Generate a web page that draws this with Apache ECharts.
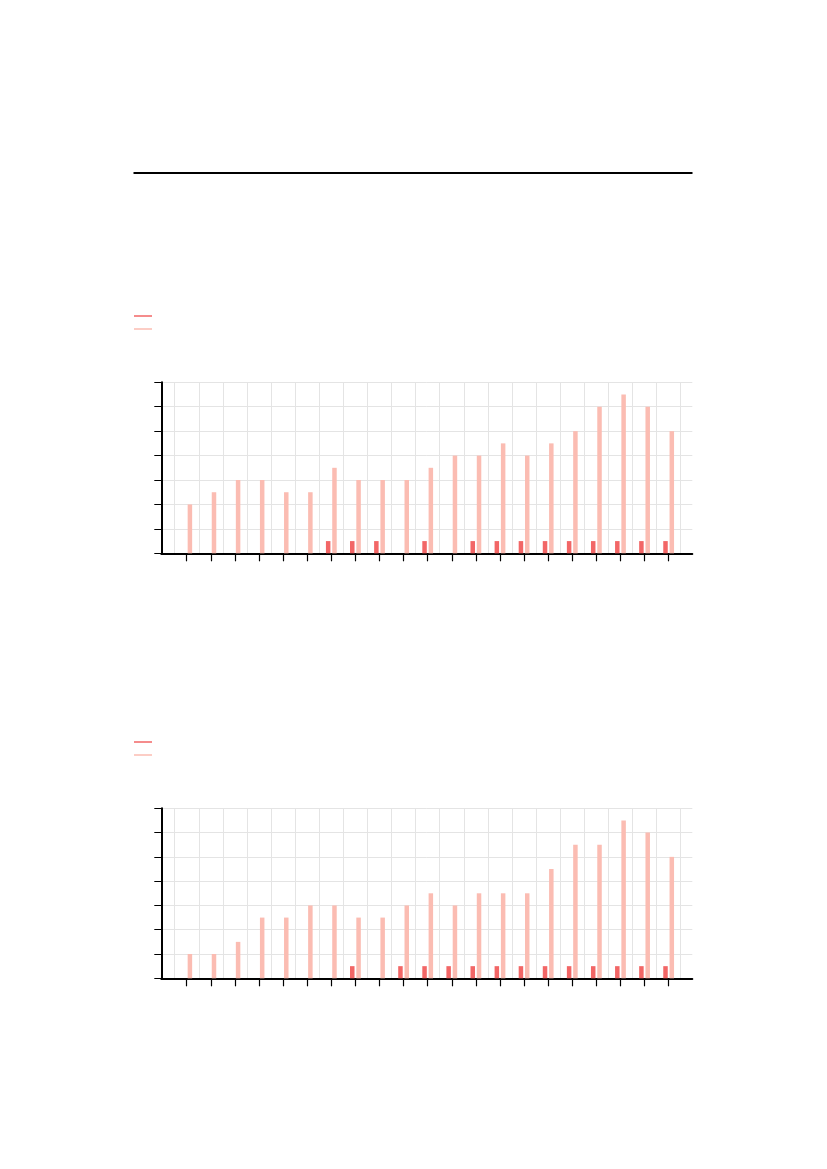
<!DOCTYPE html>
<html lang="en">
    <head>
        <meta charset="UTF-8">
        <title>bars</title>
        <style>
            html, body { margin: 0; padding: 0; background: #fff; }
            #Main { width: 827px; height: 1169px; }
        </style>
    </head>
    <script src="https://cdn.jsdelivr.net/npm/echarts@6.0.0/dist/echarts.min.js"></script>
    <body>

        <div id="Main"></div>

        <script type="text/javascript">
            // 21 categories, values (half-unit steps)
            var categories = ['1', '2', '3', '4', '5', '6', '7', '8', '9', '10', '11',
                              '12', '13', '14', '15', '16', '17', '18', '19', '20', '21'];

            var topDark   = [0, 0, 0, 0, 0, 0, 0.5, 0.5, 0.5, 0, 0.5, 0, 0.5, 0.5, 0.5, 0.5, 0.5, 0.5, 0.5, 0.5, 0.5];
            var topLight  = [2, 2.5, 3, 3, 2.5, 2.5, 3.5, 3, 3, 3, 3.5, 4, 4, 4.5, 4, 4.5, 5, 6, 6.5, 6, 5];

            var bottomDark  = [0, 0, 0, 0, 0, 0, 0, 0.5, 0, 0.5, 0.5, 0.5, 0.5, 0.5, 0.5, 0.5, 0.5, 0.5, 0.5, 0.5, 0.5];
            var bottomLight = [1, 1, 1.5, 2.5, 2.5, 3, 3, 2.5, 2.5, 3, 3.5, 3, 3.5, 3.5, 3.5, 4.5, 5.5, 5.5, 6.5, 6, 5];

            var yMax = 7;
            var darkColor = '#f26666';
            var lightColor = '#fbbcb2';
            var gridColor = '#e4e4e4';

            var myChart = echarts.init(document.getElementById('Main'));

            // each panel = outer grid (axes + horizontal lines) + inner grid (bars + vertical lines)
            var panelTops = [382.3, 808.3];
            var panelHeights = [171, 170];
            var panelData = [[topDark, topLight], [bottomDark, bottomLight]];

            var grids = [], xAxes = [], yAxes = [], series = [], graphics = [];

            graphics.push({
                type: 'line', silent: true,
                shape: { x1: 133.5, y1: 173, x2: 692.5, y2: 173 },
                style: { stroke: '#000', lineWidth: 2 }
            });

            for (var p = 0; p < 2; p++) {
                var pTop = panelTops[p], pH = panelHeights[p];
                var a = p * 2, b = p * 2 + 1;

                grids.push({ left: 161.3, top: pTop, width: 531, height: pH });
                grids.push({ left: 174.7, top: pTop, width: 506, height: pH });

                // outer grid
                xAxes.push({
                    gridIndex: a, type: 'value', min: 0, max: 1,
                    axisLine: { show: true, lineStyle: { color: '#000', width: 2 } },
                    axisTick: { show: false }, axisLabel: { show: false }, splitLine: { show: false }
                });
                yAxes.push({
                    gridIndex: a, type: 'value', min: 0, max: yMax, interval: 1,
                    axisLine: { show: true, lineStyle: { color: '#000', width: 2 } },
                    axisTick: { show: true, inside: false, length: 7, lineStyle: { color: '#000', width: 1 } },
                    axisLabel: { show: false },
                    splitLine: { show: true, lineStyle: { color: gridColor, width: 1 } }
                });

                // inner grid, category bands
                xAxes.push({
                    gridIndex: b, type: 'category', data: categories, boundaryGap: true,
                    axisLine: { show: false },
                    axisTick: { show: true, alignWithLabel: true, interval: 0, inside: false, length: 8,
                                lineStyle: { color: '#000', width: 1.2 } },
                    axisLabel: { show: false, interval: 0 },
                    splitLine: { show: true, interval: 0, lineStyle: { color: gridColor, width: 1 } }
                });
                yAxes.push({
                    gridIndex: b, type: 'value', min: 0, max: yMax, show: false
                });

                series.push({
                    type: 'bar', xAxisIndex: b, yAxisIndex: b,
                    data: panelData[p][0],
                    barWidth: 4.5, barGap: '40%',
                    itemStyle: { color: darkColor },
                    z: 3
                });
                series.push({
                    type: 'bar', xAxisIndex: b, yAxisIndex: b,
                    data: panelData[p][1],
                    barWidth: 4.5, barGap: '40%',
                    itemStyle: { color: lightColor },
                    z: 3
                });

                // legend swatches (no text in the original)
                var ly = 316 + (pTop - panelTops[0]);
                graphics.push({
                    type: 'line', silent: true,
                    shape: { x1: 134, y1: ly, x2: 152, y2: ly },
                    style: { stroke: darkColor, lineWidth: 1.5 }
                });
                graphics.push({
                    type: 'line', silent: true,
                    shape: { x1: 134, y1: ly + 13, x2: 152, y2: ly + 13 },
                    style: { stroke: lightColor, lineWidth: 1.5 }
                });
            }

            myChart.setOption({
                animation: false,
                grid: grids,
                xAxis: xAxes,
                yAxis: yAxes,
                series: series,
                graphic: graphics
            });

            window.addEventListener('resize', function () {
                myChart.resize();
            });
        </script>
    </body>
</html>
